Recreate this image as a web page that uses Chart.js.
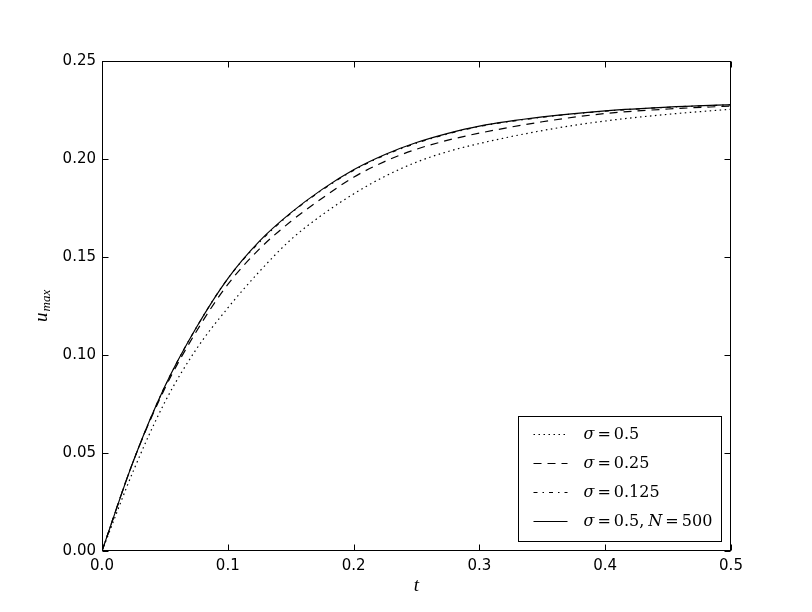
<!DOCTYPE html>
<html>
<head>
<meta charset="utf-8">
<script src="https://cdn.jsdelivr.net/npm/chart.js@4.4.1/dist/chart.umd.min.js"></script>
<style>
  html, body { margin: 0; padding: 0; background: #fff; }
</style>
</head>
<body>
<canvas id="chart" width="812" height="612"></canvas>
<script>
// time samples (x)
var tVals = [0, 0.025, 0.05, 0.075, 0.1, 0.125, 0.15, 0.175, 0.2, 0.225, 0.25, 0.275, 0.3, 0.35, 0.4, 0.45, 0.5];

// u_max for each run
var uSigma05     = [0, 0.041, 0.076, 0.103, 0.124, 0.1425, 0.1588, 0.1715, 0.1822, 0.1912, 0.1984, 0.2038, 0.2079, 0.2145, 0.2194, 0.2228, 0.2254];
var uSigma025    = [0, 0.046, 0.083, 0.112, 0.136, 0.154, 0.1681, 0.1800, 0.1907, 0.1988, 0.2050, 0.2096, 0.2132, 0.2190, 0.2232, 0.2255, 0.2270];
var uSigma0125   = [0, 0.046, 0.084, 0.114, 0.139, 0.1575, 0.1722, 0.1842, 0.1942, 0.2020, 0.2081, 0.2128, 0.2166, 0.2213, 0.2244, 0.2264, 0.2276];
var uSigma05N500 = [0, 0.046, 0.084, 0.114, 0.139, 0.158, 0.1725, 0.1845, 0.1945, 0.2023, 0.2084, 0.2131, 0.2168, 0.2215, 0.2246, 0.2265, 0.2277];

var seriesLabels = ["σ = 0.5", "σ = 0.25", "σ = 0.125", "σ = 0.5, N = 500"];
var xTickLabels = ["0.0", "0.1", "0.2", "0.3", "0.4", "0.5"];
var yTickLabels = ["0.00", "0.05", "0.10", "0.15", "0.20", "0.25"];

function toPoints(ys) {
    return tVals.map(function(t, i) { return { x: t, y: ys[i] }; });
}

function lineSet(label, ys, dash) {
    return {
        label: label,
        data: toPoints(ys),
        borderColor: "#000",
        borderWidth: 1.2,
        borderDash: dash,
        pointRadius: 0,
        fill: false,
        cubicInterpolationMode: "monotone"
    };
}

// inward ticks on all four sides + the frame
var frameTicks = {
    id: "frameTicks",
    afterDatasetsDraw: function(chart) {
        var ctx = chart.ctx, a = chart.chartArea;
        var xs = chart.scales.x, ys = chart.scales.y;
        var L = Math.round(a.left) + 0.5, R = Math.round(a.right) - 0.5;
        var T = Math.round(a.top) + 0.5, B = Math.round(a.bottom) - 0.5;
        ctx.save();
        ctx.strokeStyle = "#000";
        ctx.lineWidth = 1;
        ctx.setLineDash([]);
        ctx.beginPath();
        xs.ticks.forEach(function(t) {
            var px = Math.round(xs.getPixelForValue(t.value)) + 0.5;
            ctx.moveTo(px, B); ctx.lineTo(px, B - 6);
            ctx.moveTo(px, T); ctx.lineTo(px, T + 6);
        });
        ys.ticks.forEach(function(t) {
            var py = Math.round(ys.getPixelForValue(t.value)) + 0.5;
            ctx.moveTo(L, py); ctx.lineTo(L + 6, py);
            ctx.moveTo(R, py); ctx.lineTo(R - 6, py);
        });
        ctx.stroke();
        ctx.strokeRect(L, T, R - L, B - T);
        ctx.restore();
    }
};

// draws label text with σ and N in italic
function drawMathLabel(ctx, text, x, y) {
    var parts = text.replace(/ /g, "").split(/([σN])/).filter(function(s) { return s.length; });
    parts.forEach(function(p) {
        var italic = (p === "σ" || p === "N");
        ctx.font = (italic ? "italic " : "") + "16px 'DejaVu Serif'";
        var segs = p.split(/(=)/).filter(function(s) { return s.length; });
        segs.forEach(function(s) {
            if (s === "=") x += 3;
            ctx.fillText(s, x, y);
            x += ctx.measureText(s).width;
            if (s === "=") x += 3;
            if (s.slice(-1) === ",") x += 4;
        });
    });
}

var legendBox = {
    id: "legendBox",
    afterDraw: function(chart) {
        var ctx = chart.ctx, a = chart.chartArea;
        var w = 203, h = 125;
        var x0 = Math.round(a.right) - 10 - w + 0.5;
        var y0 = Math.round(a.bottom) - 10 - h + 0.5;
        ctx.save();
        ctx.fillStyle = "#fff";
        ctx.fillRect(x0, y0, w, h);
        ctx.strokeStyle = "#000";
        ctx.lineWidth = 1;
        ctx.strokeRect(x0, y0, w, h);
        chart.data.datasets.forEach(function(ds, i) {
            var yy = Math.round(y0 + 17 + i * 29) + 0.5;
            ctx.beginPath();
            ctx.setLineDash(ds.borderDash || []);
            ctx.lineWidth = ds.borderWidth;
            ctx.moveTo(x0 + 15, yy);
            ctx.lineTo(x0 + 49, yy);
            ctx.stroke();
            ctx.setLineDash([]);
            ctx.fillStyle = "#000";
            ctx.textBaseline = "middle";
            drawMathLabel(ctx, ds.label, x0 + 65, yy);
        });
        ctx.restore();
    }
};

// y title u_max with subscript
var yTitle = {
    id: "yTitle",
    afterDraw: function(chart) {
        var ctx = chart.ctx;
        ctx.save();
        ctx.translate(47, 322);
        ctx.rotate(-Math.PI / 2);
        ctx.fillStyle = "#000";
        ctx.textBaseline = "alphabetic";
        ctx.font = "italic 19px 'Liberation Serif'";
        ctx.fillText("u", 0, 0);
        var wu = ctx.measureText("u").width;
        ctx.font = "italic 13px 'Liberation Serif'";
        ctx.fillText("max", wu + 1, 3);
        ctx.restore();
    }
};

var canvas = document.getElementById("chart");
var ctx = canvas.getContext("2d");

Chart.defaults.font.family = "'DejaVu Sans'";
Chart.defaults.color = "#000";

new Chart(ctx, {
    type: "line",
    data: {
        datasets: [
            lineSet(seriesLabels[0], uSigma05, [1.5, 3.5]),
            lineSet(seriesLabels[1], uSigma025, [8, 6]),
            lineSet(seriesLabels[2], uSigma0125, [4, 5, 1.5, 5]),
            lineSet(seriesLabels[3], uSigma05N500, [])
        ]
    },
    options: {
        responsive: false,
        animation: false,
        devicePixelRatio: 1,
        layout: { padding: { top: 61, right: 81, left: 0, bottom: 0 } },
        plugins: {
            legend: { display: false },
            tooltip: { enabled: false }
        },
        scales: {
            x: {
                type: "linear",
                min: 0,
                max: 0.5,
                grid: { display: false, drawTicks: false },
                border: { display: false },
                afterFit: function(s) { s.height = 61; },
                ticks: {
                    stepSize: 0.1,
                    padding: 6,
                    maxRotation: 0,
                    font: { size: 15 },
                    color: "#000",
                    callback: function(v) { return xTickLabels[Math.round(v * 10)]; }
                },
                title: {
                    display: true,
                    text: "t",
                    font: { family: "'Liberation Serif'", style: "italic", size: 19 },
                    padding: { top: 0, bottom: 15 }
                }
            },
            y: {
                min: 0,
                max: 0.25,
                grid: { display: false, drawTicks: false },
                border: { display: false },
                afterFit: function(s) { s.width = 102; },
                ticks: {
                    stepSize: 0.05,
                    padding: 6,
                    font: { size: 15 },
                    color: "#000",
                    callback: function(v) { return yTickLabels[Math.round(v * 20)]; }
                }
            }
        }
    },
    plugins: [frameTicks, legendBox, yTitle]
});
</script>
</body>
</html>
